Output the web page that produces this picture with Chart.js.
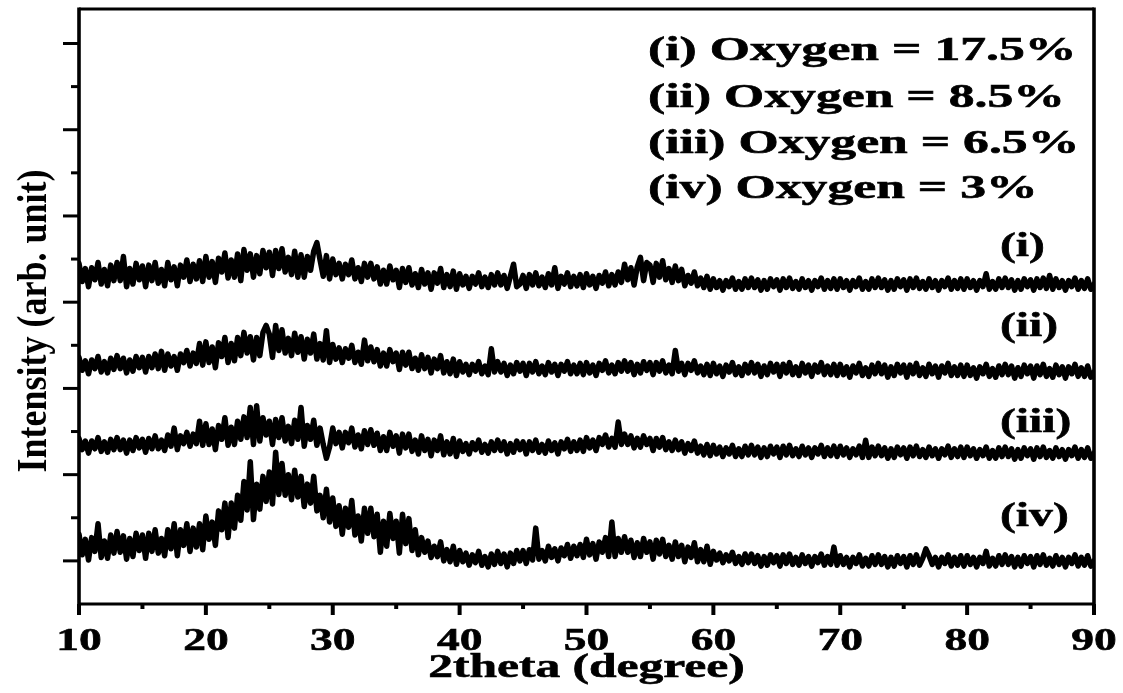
<!DOCTYPE html>
<html>
<head>
<meta charset="utf-8">
<title>XRD - oxygen content</title>
<script src="https://cdn.jsdelivr.net/npm/chart.js@4.4.1/dist/chart.umd.min.js"></script>
<style>
  html, body { margin: 0; padding: 0; background: #fff; }
  #wrap { width: 1123px; height: 693px; position: relative; }
</style>
</head>
<body>
<div id="wrap"><canvas id="xrdChart"></canvas></div>
<script>
// scan: 10 - 90 deg, step 0.25 deg
const scanStart = 10;
const scanStep = 0.25;

// intensities (arb.), offset traces
const oxygen17_5 = [
  395,374,389,368, 390,376,396,371, 388,369,393,375, 396,375,403,368, 389,371,395,376,
  392,368,393,375, 396,372,388,369, 396,376,391,369, 393,379,399,374, 394,377,398,374,
  403,379,397,373, 401,385,407,378, 399,379,406,375, 411,387,406,379, 404,383,410,390,
  408,381,410,389, 412,385,402,382, 409,379,405,379, 403,387,409,419, 399,380,404,377,
  400,382,395,377, 394,382,399,377, 390,374,395,379, 395,377,391,371, 387,371,392,376,
  387,367,389,373, 390,370,383,367, 388,371,384,365, 384,372,389,367, 382,368,386,365,
  383,370,380,366, 380,371,384,368, 379,367,382,370, 384,370,381,366, 380,394,368,371,
  381,366,382,370, 384,369,379,367, 383,370,390,366, 380,371,384,368, 380,369,382,367,
  383,370,380,366, 381,372,385,369, 382,370,385,373, 394,376,390,370, 391,402,375,396,
  393,373,395,379, 398,376,389,373, 392,375,388,369, 381,372,385,369, 378,367,380,365,
  377,367,375,364, 375,368,378,365, 374,365,377,367, 378,367,376,364, 375,365,377,368,
  376,364,377,367, 378,366,374,365, 377,367,375,364, 375,368,378,365, 375,366,377,365,
  377,367,375,364, 375,368,378,365, 374,365,377,367, 378,367,376,364, 375,365,377,368,
  376,364,377,367, 378,366,374,365, 377,367,375,364, 375,368,378,365, 375,366,377,365,
  377,367,375,364, 375,368,383,365, 374,365,377,367, 378,367,376,364, 375,365,377,368,
  376,364,377,367, 378,366,381,365, 377,367,375,364, 375,368,378,365, 375,366,377,365,
  371
];
const oxygen8_5 = [
  286,271,282,267, 283,273,287,269, 281,268,285,272, 288,273,285,268, 283,270,287,274,
  286,269,287,274, 290,273,293,271, 290,276,287,271, 290,280,294,276, 291,279,302,277,
  304,280,298,274, 303,287,309,280, 302,282,309,288, 315,291,310,283, 309,288,315,323,
  313,286,323,294, 318,291,308,288, 314,292,310,284, 307,291,313,284, 302,283,317,280,
  301,284,297,280, 296,285,300,280, 292,278,306,282, 298,281,295,276, 291,276,295,281,
  291,272,292,277, 292,273,285,271, 289,273,286,268, 284,273,288,268, 281,267,284,265,
  281,269,278,266, 278,270,281,267, 276,266,296,269, 281,269,279,265, 277,267,280,270,
  279,265,279,269, 281,267,276,266, 280,269,278,265, 278,270,281,267, 277,267,279,266,
  280,268,277,265, 279,271,282,268, 277,267,280,270, 282,270,280,266, 278,268,281,271,
  280,266,280,270, 282,268,277,267, 294,270,279,266, 279,271,282,268, 276,266,278,265,
  279,267,276,264, 277,269,280,266, 275,265,278,268, 280,268,278,264, 276,266,279,269,
  278,264,278,268, 280,266,275,265, 279,268,277,264, 277,269,280,266, 276,266,278,265,
  278,266,275,263, 276,268,279,265, 274,264,277,267, 279,267,277,263, 275,265,278,268,
  277,263,277,267, 279,265,274,264, 278,267,276,263, 276,268,279,265, 275,265,277,264,
  277,265,274,262, 275,267,278,264, 273,263,276,266, 278,266,276,262, 274,264,277,267,
  276,262,276,266, 278,264,273,263, 277,266,275,262, 275,267,278,264, 274,264,276,263,
  269
];
const oxygen6_5 = [
  192,179,189,175, 189,180,193,177, 188,176,191,179, 193,179,190,175, 190,178,193,181,
  191,176,192,180, 195,180,190,178, 196,183,204,179, 195,186,199,183, 197,186,212,184,
  209,185,203,179, 207,191,216,184, 205,185,212,191, 217,193,228,185, 230,189,216,196,
  212,185,214,193, 216,189,206,186, 213,191,228,183, 207,191,213,184, 204,185,169,182,
  204,186,199,181, 199,187,204,182, 196,180,201,185, 202,184,198,178, 194,178,199,183,
  195,175,197,181, 197,177,190,174, 195,178,191,172, 190,178,195,173, 188,174,192,171,
  189,177,186,174, 187,179,190,176, 185,175,188,178, 190,178,188,174, 186,176,189,179,
  188,174,188,178, 190,176,185,175, 189,178,187,174, 188,180,191,177, 188,178,190,177,
  193,181,190,178, 193,185,196,182, 192,182,211,185, 197,185,195,181, 192,182,195,185,
  192,178,192,182, 193,179,188,178, 190,179,188,175, 186,178,189,175, 183,173,185,172,
  184,174,182,171, 181,174,184,171, 180,171,183,173, 184,173,182,170, 181,171,183,174,
  182,170,183,173, 184,172,180,171, 183,173,181,170, 181,174,184,171, 181,172,183,171,
  183,173,181,170, 180,173,183,170, 190,170,182,172, 183,172,181,169, 180,170,182,173,
  181,169,182,172, 183,171,179,170, 182,172,180,169, 180,173,183,170, 180,171,182,170,
  182,172,180,169, 179,172,182,169, 178,169,181,171, 182,171,180,168, 179,169,181,172,
  180,168,181,171, 182,170,178,169, 181,171,179,168, 179,172,182,169, 179,170,181,169,
  175
];
const oxygen3 = [
  81,57,75,51, 77,61,93,54, 73,53,80,59, 84,60,79,52, 76,55,82,62,
  80,53,82,61, 86,59,76,56, 86,64,93,56, 86,68,93,61, 88,66,93,63,
  102,75,95,68, 108,86,117,77, 117,88,126,97, 142,109,165,98, 139,110,148,119,
  153,116,176,127, 163,126,150,121, 155,124,148,113, 139,117,148,108, 126,100,133,95,
  123,90,114,81, 111,89,120,80, 102,73,111,82, 111,78,104,60, 96,67,105,76,
  96,59,104,70, 99,62,86,57, 77,60,73,54, 67,55,72,50, 63,49,67,46,
  62,49,59,45, 57,48,61,45, 55,43,58,46, 61,47,58,43, 59,47,62,50,
  62,47,63,51, 88,52,62,50, 67,54,64,50, 65,56,69,53, 67,56,69,54,
  75,57,70,52, 72,60,77,55, 95,55,76,60, 78,60,74,54, 71,55,76,60,
  72,52,74,58, 75,55,68,52, 72,55,68,49, 66,54,71,49, 63,49,67,46,
  61,51,59,48, 57,50,60,47, 55,46,58,48, 58,47,56,44, 55,45,57,48,
  56,44,57,47, 58,46,54,45, 57,47,55,44, 55,48,58,45, 55,46,66,45,
  56,46,54,43, 54,47,57,44, 53,44,56,46, 57,46,55,43, 54,44,56,47,
  55,43,56,46, 57,45,53,64, 56,46,54,43, 54,47,57,44, 54,45,56,44,
  56,46,54,43, 54,47,61,44, 53,44,56,46, 57,46,55,43, 54,44,56,47,
  55,43,56,46, 57,45,53,44, 56,46,54,43, 54,47,57,44, 54,45,56,44,
  50
];

const seriesTags = ['(i)', '(ii)', '(iii)', '(iv)'];
const legendLines = ['(i) Oxygen = 17.5%', '(ii) Oxygen = 8.5%', '(iii) Oxygen = 6.5%', '(iv) Oxygen = 3%'];

const twoTheta = oxygen17_5.map((_, i) => scanStart + i * scanStep);
const toPoints = arr => arr.map((v, i) => ({ x: twoTheta[i], y: v }));

const serif = '"Liberation Serif", "Times New Roman", serif';

function stretchedText(ctx, str, x, y, sx, align) {
  ctx.save();
  ctx.translate(x, y);
  ctx.scale(sx, 1);
  ctx.textAlign = align;
  ctx.fillText(str, 0, 0);
  ctx.strokeText(str, 0, 0);
  ctx.restore();
}

// frame, ticks and all the text (the original lettering is wide)
const frameAndText = {
  id: 'frameAndText',
  afterDraw(chart) {
    const { ctx, chartArea: a, scales: { x, y } } = chart;
    ctx.save();
    ctx.strokeStyle = '#000';
    ctx.fillStyle = '#000';

    ctx.lineWidth = 3;
    y.ticks.forEach(t => {
      if (t.value <= 0 || t.value % 50 !== 0) return;
      const py = y.getPixelForValue(t.value);
      const len = (t.value / 50) % 2 === 1 ? 16 : 8;
      ctx.beginPath(); ctx.moveTo(a.left, py); ctx.lineTo(a.left - len, py); ctx.stroke();
    });

    ctx.lineWidth = 4;
    x.ticks.forEach(t => {
      const px = x.getPixelForValue(t.value);
      const len = t.value % 10 === 0 ? 11 : 5;
      ctx.beginPath(); ctx.moveTo(px, a.bottom); ctx.lineTo(px, a.bottom + len); ctx.stroke();
    });

    ctx.lineWidth = 2.8;
    ctx.beginPath();
    ctx.moveTo(a.left, a.top); ctx.lineTo(a.right, a.top);
    ctx.moveTo(a.left, a.bottom); ctx.lineTo(a.right, a.bottom);
    ctx.stroke();
    ctx.lineWidth = 3.6;
    ctx.beginPath();
    ctx.moveTo(a.left, a.top - 1.4); ctx.lineTo(a.left, a.bottom + 1.4);
    ctx.moveTo(a.right, a.top - 1.4); ctx.lineTo(a.right, a.bottom + 1.4);
    ctx.stroke();

    ctx.textBaseline = 'alphabetic';
    ctx.lineWidth = 0.6;
    ctx.font = 'bold 32px ' + serif;
    x.ticks.forEach(t => {
      if (t.value % 10 !== 0) return;
      stretchedText(ctx, String(t.value), x.getPixelForValue(t.value), 650, 1.42, 'center');
    });

    ctx.font = 'bold 33px ' + serif;
    stretchedText(ctx, '2theta (degree)', (a.left + a.right) / 2, 677, 1.5, 'center');

    ctx.save();
    ctx.font = 'bold 36px ' + serif;
    ctx.translate(46, 321);
    ctx.rotate(-Math.PI / 2);
    ctx.scale(1, 1.18);
    ctx.textAlign = 'center';
    ctx.fillText('Intensity (arb. unit)', 0, 0);
    ctx.restore();

    ctx.font = 'bold 34px ' + serif;
    [60, 107, 153, 198].forEach((by, i) => stretchedText(ctx, legendLines[i], 648, by, 1.52, 'left'));
    [256, 336, 432, 526].forEach((by, i) => stretchedText(ctx, seriesTags[i], 1000, by, 1.4, 'left'));

    ctx.restore();
  }
};

const traces = [oxygen17_5, oxygen8_5, oxygen6_5, oxygen3];

new Chart(document.getElementById('xrdChart'), {
  type: 'line',
  data: {
    datasets: traces.map((arr, i) => ({
      label: legendLines[i],
      data: toPoints(arr),
      borderColor: '#000',
      borderWidth: 5.5,
      borderJoinStyle: 'round',
      borderCapStyle: 'round',
      pointRadius: 0,
      fill: false,
      tension: 0
    }))
  },
  options: {
    responsive: true,
    maintainAspectRatio: false,
    animation: false,
    events: [],
    layout: { padding: { left: 0, top: 9, right: 29, bottom: 0 } },
    plugins: { legend: { display: false }, tooltip: { enabled: false } },
    scales: {
      x: {
        type: 'linear',
        min: 10,
        max: 90,
        ticks: { display: false, stepSize: 5 },
        grid: { display: false },
        border: { display: false },
        afterFit: s => { s.height = 89; }
      },
      y: {
        min: 0,
        max: 690,
        ticks: { display: false, stepSize: 50 },
        grid: { display: false },
        border: { display: false },
        afterFit: s => { s.width = 79; }
      }
    }
  },
  plugins: [frameAndText]
});
</script>
</body>
</html>
